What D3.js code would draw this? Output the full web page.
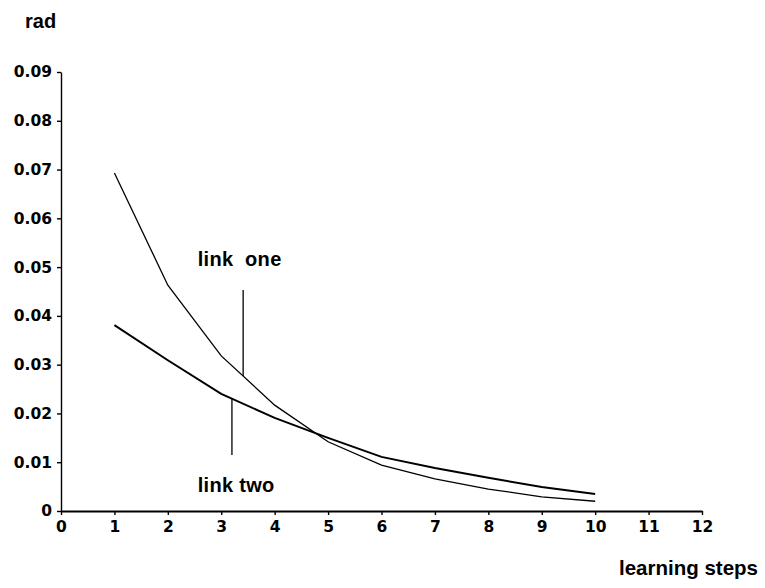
<!DOCTYPE html>
<html>
<head>
<meta charset="utf-8">
<script src="https://cdn.jsdelivr.net/npm/d3@7"></script>
<style>
  html, body { margin: 0; padding: 0; background: #fff; }
  svg { display: block; }
</style>
</head>
<body>
<script>
// Learning steps and the joint error (rad) of each link after every step
const steps = [1, 2, 3, 4, 5, 6, 7, 8, 9, 10];
const linkOne = [0.0693, 0.0463, 0.0318, 0.0217, 0.0142, 0.0094, 0.0066, 0.0045, 0.0029, 0.0020];
const linkTwo = [0.0381, 0.0309, 0.0240, 0.0191, 0.0150, 0.0111, 0.0088, 0.0068, 0.0049, 0.0035];

const xTicks = [0, 1, 2, 3, 4, 5, 6, 7, 8, 9, 10, 11, 12];
const yTicks = [0, 0.01, 0.02, 0.03, 0.04, 0.05, 0.06, 0.07, 0.08, 0.09];
const yTickLabels = ["0", "0.01", "0.02", "0.03", "0.04", "0.05", "0.06", "0.07", "0.08", "0.09"];

// Curve labels with their pointer lines (data units)
const labels = [
  { text: "link\u00a0\u00a0one", x: 2.56, y: 0.0502, px: 3.41, from: 0.0453, to: 0.0277 },
  { text: "link two", x: 2.56, y: 0.0039, px: 3.2, from: 0.0230, to: 0.0115 }
];

const W = 765, H = 588;
const svg = d3.select("body").append("svg").attr("width", W).attr("height", H);

const x = d3.scaleLinear().domain([0, 12]).range([61, 702]);
const y = d3.scaleLinear().domain([0, 0.09]).range([511, 72]);

const tickFont = "'DejaVu Sans', sans-serif";
const labelFont = "'Liberation Sans', Arial, sans-serif";

// y axis
const gy = svg.append("g").attr("transform", `translate(${x(0)},0)`)
  .call(d3.axisLeft(y).tickValues(yTicks).tickFormat((d, i) => yTickLabels[i])
    .tickSizeInner(4).tickSizeOuter(0).tickPadding(5));
gy.select(".domain").attr("stroke", "#000").attr("stroke-width", 1.4);
gy.selectAll(".tick line").attr("stroke", "#000").attr("stroke-width", 1.4);
gy.selectAll(".tick text").attr("font-family", tickFont).attr("font-weight", "bold")
  .attr("font-size", 15.5).attr("fill", "#000");

// x axis
const gx = svg.append("g").attr("transform", `translate(0,${y(0)})`)
  .call(d3.axisBottom(x).tickValues(xTicks).tickFormat(d3.format("d"))
    .tickSizeInner(4).tickSizeOuter(0).tickPadding(6));
gx.select(".domain").attr("stroke", "#000").attr("stroke-width", 2);
gx.selectAll(".tick line").attr("stroke", "#000").attr("stroke-width", 1.4);
gx.selectAll(".tick text").attr("font-family", tickFont).attr("font-weight", "bold")
  .attr("font-size", 15.5).attr("fill", "#000");

// axis titles
svg.append("text").attr("x", 25).attr("y", 28)
  .attr("font-family", labelFont).attr("font-weight", "bold").attr("font-size", 20)
  .text("rad");
svg.append("text").attr("x", 758).attr("y", 575).attr("text-anchor", "end")
  .attr("font-family", labelFont).attr("font-weight", "bold").attr("font-size", 20.5)
  .text("learning steps");

// curves
const line = d3.line().x((d, i) => x(steps[i])).y(d => y(d));
svg.append("path").datum(linkOne).attr("d", line)
  .attr("fill", "none").attr("stroke", "#000").attr("stroke-width", 1.3);
svg.append("path").datum(linkTwo).attr("d", line)
  .attr("fill", "none").attr("stroke", "#000").attr("stroke-width", 2);

// labels and pointers
labels.forEach(l => {
  svg.append("text").attr("x", x(l.x)).attr("y", y(l.y))
    .attr("font-family", labelFont).attr("font-weight", "bold").attr("font-size", 20)
    .attr("letter-spacing", 0.3)
    .text(l.text);
  svg.append("line")
    .attr("x1", x(l.px)).attr("x2", x(l.px))
    .attr("y1", y(l.from)).attr("y2", y(l.to))
    .attr("stroke", "#000").attr("stroke-width", 1.3);
});
</script>
</body>
</html>
